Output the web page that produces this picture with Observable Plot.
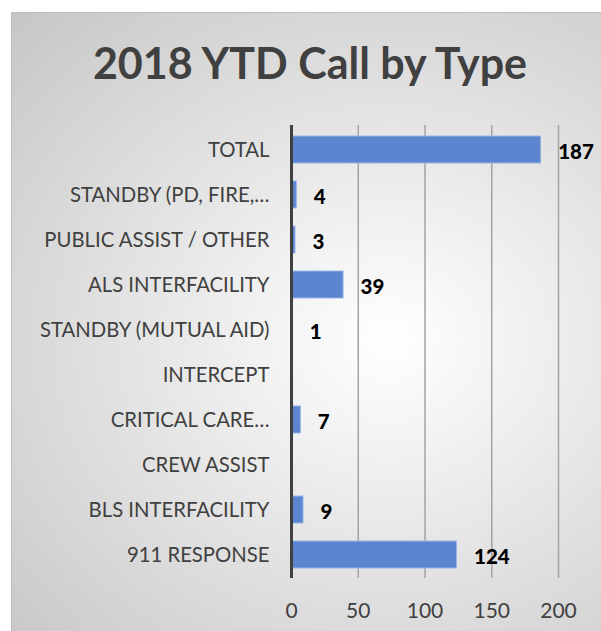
<!DOCTYPE html>
<html>
<head>
<meta charset="utf-8">
<script src="https://cdn.jsdelivr.net/npm/d3@7"></script>
<script src="https://cdn.jsdelivr.net/npm/@observablehq/plot@0.6"></script>
<style>
  html, body { margin: 0; padding: 0; background: #ffffff; }
  #frame {
    position: absolute; left: 11px; top: 12px; width: 600px; height: 630px;
    box-sizing: border-box; border: 1px solid #bdbdbd;
    background: radial-gradient(ellipse at 63% 52%, #ffffff 0%, #f3f3f3 22%, #c6c6c6 100%);
    overflow: hidden;
  }
  #title {
    position: absolute; left: 0; width: 596px; top: 24px; text-align: center;
    font-family: Lato, sans-serif; font-weight: bold; font-size: 43px; color: #404040;
  }
  #chart { position: absolute; left: -1px; top: 99px; }
</style>
</head>
<body>
<div id="frame">
  <div id="title">2018 YTD Call by Type</div>
  <div id="chart"></div>
</div>
<script>
const categories = [
  "TOTAL",
  "STANDBY (PD, FIRE,…",
  "PUBLIC ASSIST / OTHER",
  "ALS INTERFACILITY",
  "STANDBY (MUTUAL AID)",
  "INTERCEPT",
  "CRITICAL CARE…",
  "CREW ASSIST",
  "BLS INTERFACILITY",
  "911 RESPONSE"
];
const values = [187, 4, 3, 39, 1, null, 7, null, 9, 124];
const xTicks = [0, 50, 100, 150, 200];

const data = categories.map((c, i) => ({category: c, value: values[i]}));
const shown = data.filter(d => d.value != null);

const chart = Plot.plot({
  width: 590,
  height: 520,
  marginLeft: 280,
  marginRight: 43,
  marginTop: 13,
  marginBottom: 54,
  style: {background: "transparent", fontFamily: "Lato, sans-serif", color: "#404040", overflow: "visible"},
  x: {domain: [0, 200], ticks: xTicks, label: null},
  y: {domain: categories, paddingInner: 0.4, paddingOuter: 0.2, label: null},
  marks: [
    Plot.gridX(xTicks.filter(t => t > 0), {stroke: "#a3a3a3", strokeOpacity: 1, strokeWidth: 1.5}),
    Plot.barX(shown, {x: "value", y: "category", fill: "#5b86cf", stroke: "#9ab6e6", strokeWidth: 1}),
    Plot.ruleX([0], {stroke: "#404040", strokeWidth: 3}),
    Plot.text(shown, {x: "value", y: "category", text: d => String(d.value), textAnchor: "start", dx: 17, dy: 2, fontWeight: 900, fontSize: 20.5, fill: "#000"}),
    Plot.axisY({tickSize: 0, tickPadding: 22, fontSize: 20.3, label: null}),
    Plot.axisX({ticks: xTicks, tickSize: 0, tickPadding: 25, fontSize: 21, label: null})
  ]
});
document.getElementById("chart").appendChild(chart);
</script>
</body>
</html>
